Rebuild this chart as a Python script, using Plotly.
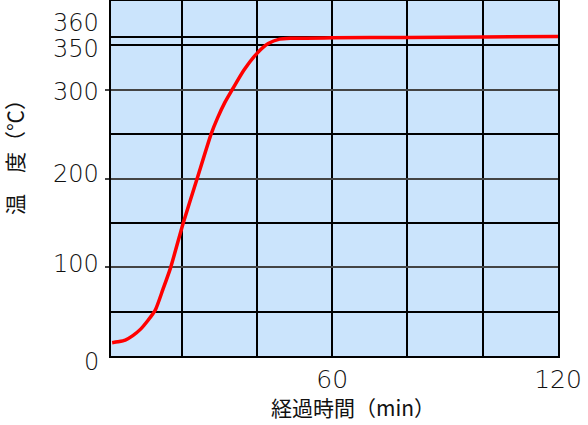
import plotly.graph_objects as go

# Data
time_min = [1.5, 3, 5, 7, 9, 11, 13, 15, 17, 20.4, 24.1, 27.8, 29.5, 31.5, 33.4, 36.5, 40, 43, 46, 49, 60, 80, 100, 120]
temp_c = [15, 16, 18, 23, 30, 40, 52, 75, 99, 150, 200, 250, 268, 286, 300, 322, 341, 352, 357, 358, 358.5, 359, 359.5, 360]

x_tick_vals = [60, 120]
x_tick_text = ["60", "120"]
y_label_vals = [0, 100, 200, 300, 350, 360]
y_label_text = ["0", "100", "200", "300", "350", "360"]
y_label_shift = [-6, 3, 4.5, -2, -3.5, 14]
x_title = "経過時間（min）"
y_title = "温　度（℃）"

NUM_FONT = "DejaVu Sans, Noto Sans CJK JP, sans-serif"
JP_FONT = "Noto Sans CJK JP, DejaVu Sans, sans-serif"

fig = go.Figure()
fig.add_trace(go.Scatter(
    x=time_min, y=temp_c, mode="lines",
    line=dict(color="#ff0000", width=3.5, shape="spline", smoothing=0.6),
    hoverinfo="skip", showlegend=False,
))

annotations = []
for v, t, s in zip(y_label_vals, y_label_text, y_label_shift):
    annotations.append(dict(
        x=0, xref="paper", y=v, yref="y", text=t, showarrow=False,
        xanchor="right", yanchor="middle", xshift=-10, yshift=s,
        font=dict(family=NUM_FONT, size=24, color="#111111", weight=300),
    ))
annotations.append(dict(
    x=0.541, xref="paper", y=-0.1437, yref="paper", text=x_title, showarrow=False,
    xanchor="center", yanchor="middle",
    font=dict(family=JP_FONT, size=21, color="#111111"),
))
annotations.append(dict(
    x=-0.217, xref="paper", y=0.5746, yref="paper", text=y_title, showarrow=False,
    xanchor="center", yanchor="middle", textangle=-90,
    font=dict(family=JP_FONT, size=21, color="#111111"),
))

fig.update_layout(
    width=588, height=425,
    margin=dict(l=111, r=30, t=1, b=69),
    paper_bgcolor="white",
    plot_bgcolor="#cbe4fc",
    annotations=annotations,
    xaxis=dict(
        range=[1.2, 120], tickvals=x_tick_vals, ticktext=x_tick_text,
        ticks="", showgrid=False, zeroline=False, automargin=False,
        showline=True, mirror=True, linecolor="black", linewidth=2,
        tickfont=dict(family=NUM_FONT, size=25, color="#111111", weight=300),
        minor=dict(tickvals=[20, 40, 60, 80, 100], showgrid=True, gridcolor="black", gridwidth=1.5, ticks=""),
    ),
    yaxis=dict(
        range=[0, 400], tickvals=[100, 200, 300], showticklabels=False,
        ticks="outside", ticklen=4, tickcolor="#444444", tickwidth=2,
        showgrid=True, gridcolor="#444444", gridwidth=2, zeroline=False, automargin=False,
        showline=True, mirror=True, linecolor="black", linewidth=2,
        minor=dict(tickvals=[50, 150, 250, 350, 360], showgrid=True, gridcolor="black", gridwidth=1.5, ticks=""),
    ),
)

fig.write_html("out.html", config={"displayModeBar": False},
               post_script="document.body.style.margin='0';")
